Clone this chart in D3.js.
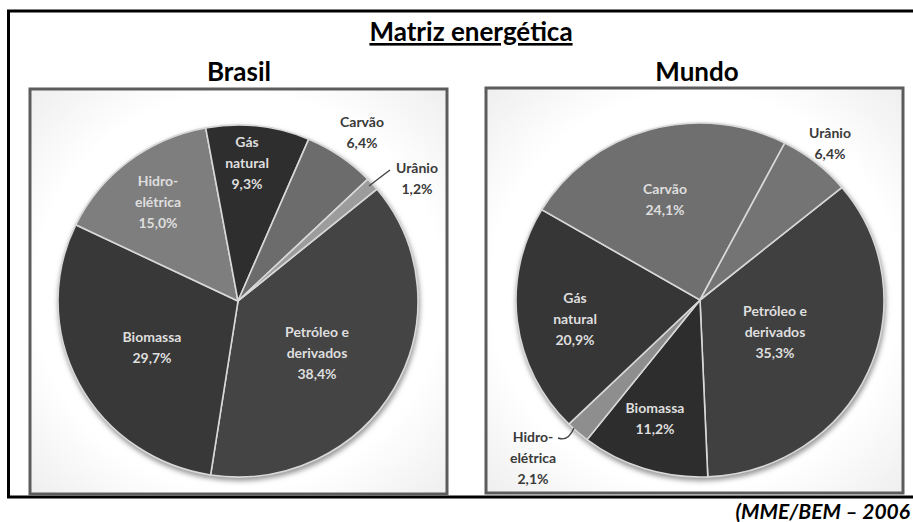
<!DOCTYPE html>
<html>
<head>
<meta charset="utf-8">
<script src="https://cdn.jsdelivr.net/npm/d3@7"></script>
<style>
  body { margin: 0; background: #fff; }
  svg { display: block; }
  .title { font-family: Lato, "Open Sans", sans-serif; font-weight: bold; fill: #000; }
  .lbl { font-family: Lato, "Open Sans", sans-serif; font-weight: bold; font-size: 14px; }
</style>
</head>
<body>
<script>
// data: Matriz energética (MME/BEM 2006)
var brasilFontes = ["Petróleo e derivados", "Biomassa", "Hidro-elétrica", "Gás natural", "Carvão", "Urânio"];
var brasilValores = [38.4, 29.7, 15.0, 9.3, 6.4, 1.2];
var brasilTextos = [["Petróleo e", "derivados", "38,4%"], ["Biomassa", "29,7%"], ["Hidro-", "elétrica", "15,0%"],
                    ["Gás", "natural", "9,3%"], ["Carvão", "6,4%"], ["Urânio", "1,2%"]];

var mundoFontes = ["Petróleo e derivados", "Biomassa", "Hidro-elétrica", "Gás natural", "Carvão", "Urânio"];
var mundoValores = [35.3, 11.2, 2.1, 20.9, 24.1, 6.4];
var mundoTextos = [["Petróleo e", "derivados", "35,3%"], ["Biomassa", "11,2%"], ["Hidro-", "elétrica", "2,1%"],
                   ["Gás", "natural", "20,9%"], ["Carvão", "24,1%"], ["Urânio", "6,4%"]];

var width = 913, height = 522;

var svg = d3.select("body").append("svg")
    .attr("width", width)
    .attr("height", height);

var defs = svg.append("defs");
var grad = defs.append("radialGradient").attr("id", "boxbg").attr("r", "0.75");
grad.append("stop").attr("offset", "0.65").attr("stop-color", "#ffffff");
grad.append("stop").attr("offset", "1").attr("stop-color", "#ebebeb");

var blur = defs.append("filter").attr("id", "soft").attr("x", "-10%").attr("y", "-10%").attr("width", "120%").attr("height", "120%");
blur.append("feGaussianBlur").attr("stdDeviation", 2.5);

// outer frame (right side is cut off)
svg.append("path")
    .attr("d", "M913,11 H8.5 V497 H913")
    .attr("fill", "none")
    .attr("stroke", "#000")
    .attr("stroke-width", 3);

// titles
svg.append("text").attr("class", "title")
    .attr("x", 471).attr("y", 41)
    .attr("text-anchor", "middle")
    .style("font-size", "26px")
    .style("text-decoration", "underline")
    .text("Matriz energética");

svg.append("text").attr("class", "title")
    .attr("x", 239).attr("y", 81)
    .attr("text-anchor", "middle")
    .style("font-size", "26px")
    .text("Brasil");

svg.append("text").attr("class", "title")
    .attr("x", 697).attr("y", 81)
    .attr("text-anchor", "middle")
    .style("font-size", "26px")
    .text("Mundo");

svg.append("text").attr("class", "title")
    .attr("x", 910).attr("y", 519)
    .attr("text-anchor", "end")
    .style("font-size", "21px")
    .style("font-style", "italic")
    .text("(MME/BEM – 2006");

// panel layouts (positions / styles only)
var panels = [
  {
    fontes: brasilFontes, valores: brasilValores, textos: brasilTextos,
    box: [30, 89, 447, 494], cx: 238, cy: 301, rx: 180, ry: 176,
    cores: ["#444444", "#383838", "#7e7e7e", "#2e2e2e", "#6c6c6c", "#9c9c9c"],
    fora: [false, false, false, false, true, true],
    pos: [[79, 52], [-86, 46], [-80, -99], [9, -138], [124, -169], [179, -123]],
    guia: [null, null, null, null, null, "M152,-131 Q140,-122 131,-115"]
  },
  {
    fontes: mundoFontes, valores: mundoValores, textos: mundoTextos,
    box: [486, 88, 903, 493], cx: 700, cy: 300, rx: 184, ry: 177,
    cores: ["#404040", "#2d2d2d", "#8e8e8e", "#363636", "#6f6f6f", "#747474"],
    fora: [false, false, true, false, false, true],
    pos: [[75, 32], [-45, 118], [-167, 158], [-125, 19], [-35, -101], [130, -157]],
    guia: [null, null, "M-142,138 Q-132,142 -126,128", null, null, null]
  }
];

var pie = d3.pie().sort(null).startAngle(50.5 * Math.PI / 180).endAngle(50.5 * Math.PI / 180 + 2 * Math.PI);

panels.forEach(function(p) {
  var b = p.box;
  svg.append("rect")
      .attr("x", b[0]).attr("y", b[1])
      .attr("width", b[2] - b[0]).attr("height", b[3] - b[1])
      .attr("fill", "url(#boxbg)")
      .attr("stroke", "#5c5c5c")
      .attr("stroke-width", 3);

  var arc = d3.arc().innerRadius(0).outerRadius(p.ry);

  var g = svg.append("g")
      .attr("transform", "translate(" + p.cx + "," + p.cy + ") scale(" + (p.rx / p.ry) + ",1)");

  // soft shadow under the pie
  g.append("ellipse")
      .attr("cx", 1).attr("cy", 3)
      .attr("rx", p.ry + 1).attr("ry", p.ry + 1)
      .attr("fill", "#999")
      .attr("filter", "url(#soft)");

  g.selectAll("path.slice")
      .data(pie(p.valores))
      .enter().append("path")
      .attr("class", "slice")
      .attr("d", arc)
      .attr("fill", function(d, i) { return p.cores[i]; })
      .attr("stroke", "#d8d8d8")
      .attr("stroke-width", 1.6)
      .attr("vector-effect", "non-scaling-stroke");

  var lg = svg.append("g").attr("transform", "translate(" + p.cx + "," + p.cy + ")");

  p.guia.forEach(function(d) {
    if (!d) return;
    lg.append("path")
        .attr("d", d)
        .attr("fill", "none")
        .attr("stroke", "#444")
        .attr("stroke-width", 1.4);
  });

  p.textos.forEach(function(linhas, i) {
    var t = lg.append("text")
        .attr("class", "lbl")
        .attr("text-anchor", "middle")
        .attr("fill", p.fora[i] ? "#3a3a3a" : "#dedede")
        .attr("x", p.pos[i][0])
        .attr("y", p.pos[i][1] - (linhas.length - 1) * 10.5 + 5);
    linhas.forEach(function(s, k) {
      t.append("tspan")
          .attr("x", p.pos[i][0])
          .attr("dy", k === 0 ? 0 : 21)
          .text(s);
    });
  });
});
</script>
</body>
</html>
